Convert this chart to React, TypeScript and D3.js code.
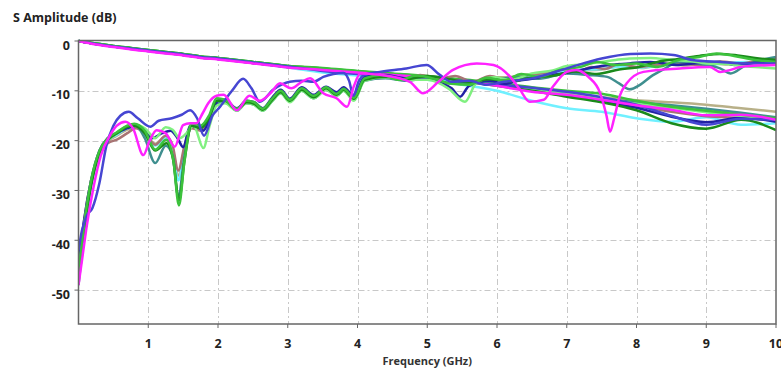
import * as d3 from 'd3';
import React, { useEffect, useRef } from 'react';

const WIDTH = 781;
const HEIGHT = 368;

const xTicks = [1, 2, 3, 4, 5, 6, 7, 8, 9, 10];
const yTicks = [0, -10, -20, -30, -40, -50];

// insertion loss traces, shared frequency grid (GHz)
const ilFreq = [0, 0.25, 0.5, 0.75, 1, 1.25, 1.5, 1.75, 2, 2.5, 3, 3.5, 4, 4.5, 5, 5.5, 6, 6.5, 7, 7.5, 8, 8.5, 9, 9.5, 10];
const ilOlive = [0, -0.6, -1.1, -1.5, -1.9, -2.3, -2.7, -3.2, -3.5, -4.3, -5.1, -5.6, -6.2, -6.7, -7.2, -7.8, -8.5, -9.5, -10.5, -11.3, -11.9, -12.3, -12.8, -13.5, -14.2];
const ilCyan = [0, -0.6, -1.1, -1.6, -2.0, -2.4, -2.8, -3.3, -3.6, -4.4, -5.3, -6.3, -6.9, -7.2, -7.8, -8.8, -10.0, -12.0, -13.5, -14.2, -15.5, -16.2, -15.3, -16.8, -16.5];
const ilMauve = [0, -0.6, -1.1, -1.5, -1.9, -2.3, -2.8, -3.3, -3.6, -4.4, -5.2, -5.7, -6.3, -6.8, -7.3, -8.0, -8.8, -10.0, -11.0, -12.0, -13.0, -14.2, -15.1, -15.4, -16.0];
const ilTeal = [0, -0.6, -1.1, -1.5, -1.9, -2.3, -2.7, -3.3, -3.5, -4.3, -5.2, -5.6, -6.2, -6.7, -7.2, -8.0, -8.7, -9.6, -10.8, -11.6, -12.3, -12.9, -13.6, -14.4, -15.3];
const ilNavy = [0, -0.6, -1.1, -1.5, -2.0, -2.4, -2.8, -3.3, -3.6, -4.4, -5.2, -5.7, -6.3, -6.8, -7.3, -8.0, -8.8, -9.8, -10.8, -12.2, -13.4, -15.2, -16.3, -15.4, -16.2];
const ilLightGreen = [0, -0.5, -1.0, -1.4, -1.8, -2.2, -2.6, -3.1, -3.4, -4.2, -5.0, -5.5, -6.1, -6.6, -7.1, -7.8, -8.6, -9.7, -10.6, -11.6, -12.6, -13.4, -14.3, -15.0, -15.8];
const ilDarkGreen = [0, -0.5, -1.0, -1.4, -1.8, -2.2, -2.6, -3.1, -3.4, -4.2, -5.0, -5.5, -6.1, -6.6, -7.2, -8.1, -9.0, -10.0, -11.2, -12.3, -13.9, -16.5, -17.6, -15.8, -17.9];
const ilGreen = [0, -0.5, -1.0, -1.4, -1.8, -2.2, -2.6, -3.1, -3.4, -4.2, -5.0, -5.4, -6.0, -6.5, -7.0, -7.7, -8.4, -9.3, -10.0, -10.6, -12.0, -13.2, -14.0, -14.8, -15.5];
const ilBlue = [0, -0.6, -1.1, -1.5, -1.9, -2.3, -2.7, -3.2, -3.5, -4.3, -5.1, -6.0, -6.6, -6.9, -7.3, -8.0, -8.7, -9.4, -10.2, -11.3, -12.8, -15.0, -16.8, -15.6, -15.8];
const ilMagenta = [0, -0.7, -1.2, -1.7, -2.1, -2.5, -2.9, -3.4, -3.7, -4.5, -5.3, -5.8, -6.3, -6.8, -7.3, -8.1, -9.0, -10.2, -10.8, -11.8, -12.9, -13.8, -14.9, -14.8, -15.8];

// return loss traces as [GHz, dB]
const rlOlive = [[0, -47], [0.08, -37], [0.18, -28.5], [0.3, -22.8], [0.42, -20.2], [0.55, -19], [0.7, -17.8], [0.82, -17.3], [0.95, -18.6], [1.1, -20.6], [1.25, -19.2], [1.35, -21.5], [1.43, -27], [1.52, -21.5], [1.62, -17.3], [1.75, -17.8], [1.87, -15.6], [1.98, -12.2], [2.1, -12.1], [2.27, -13.7], [2.41, -12.2], [2.52, -12.5], [2.64, -13.7], [2.78, -11.7], [2.9, -10.2], [3.03, -11.9], [3.2, -9.6], [3.37, -11.1], [3.55, -9.4], [3.7, -10.7], [3.8, -9.7], [3.95, -11.4], [4.1, -7.7], [4.4, -7.1], [4.7, -7.7], [5.0, -7.0], [5.3, -7.9], [5.6, -8.3], [5.9, -7.4], [6.2, -7.2], [6.5, -6.6], [6.8, -6.8], [7.1, -6.0], [7.5, -5.7], [7.8, -5.0], [8.1, -5.4], [8.4, -4.6], [8.7, -4.9], [9.0, -4.3], [9.3, -4.7], [9.6, -4.4], [10, -4.2]];
const rlCyan = [[0, -48], [0.08, -38], [0.18, -29], [0.3, -23], [0.42, -20], [0.55, -18.8], [0.7, -17.5], [0.82, -17.2], [0.95, -18.8], [1.1, -21], [1.25, -19.5], [1.35, -22], [1.43, -28], [1.52, -22], [1.62, -17.2], [1.75, -17.5], [1.87, -15.5], [1.98, -12.3], [2.1, -12.2], [2.27, -13.8], [2.41, -12.3], [2.52, -12.6], [2.64, -13.8], [2.78, -11.6], [2.9, -10.2], [3.03, -12], [3.2, -9.7], [3.37, -11.2], [3.55, -9.5], [3.7, -10.7], [3.8, -9.7], [3.95, -11.5], [4.1, -7.7], [4.4, -7.2], [4.7, -7.7], [5.0, -7.3], [5.3, -8.1], [5.6, -8.4], [5.9, -7.6], [6.2, -7.9], [6.5, -7.0], [6.8, -6.6], [7.1, -5.9], [7.5, -5.6], [7.8, -5.1], [8.1, -5.3], [8.4, -4.7], [8.7, -4.5], [9.0, -4.9], [9.3, -4.4], [9.6, -4.2], [10, -4.5]];
const rlMauve = [[0, -46], [0.08, -36], [0.18, -28], [0.3, -23], [0.42, -20.5], [0.55, -19.8], [0.7, -18.5], [0.82, -17.5], [0.95, -18.5], [1.1, -20.8], [1.25, -19], [1.35, -21], [1.43, -26], [1.52, -21], [1.62, -17.5], [1.75, -18], [1.87, -15.5], [1.98, -12], [2.1, -12], [2.27, -13.8], [2.41, -12.2], [2.52, -12.5], [2.64, -13.8], [2.78, -11.8], [2.9, -10.3], [3.03, -12], [3.2, -9.8], [3.37, -11.2], [3.55, -9.5], [3.7, -10.8], [3.8, -9.8], [3.95, -11.5], [4.1, -7.8], [4.4, -7.0], [4.65, -7.8], [4.9, -6.8], [5.15, -7.6], [5.4, -7.0], [5.65, -8.2], [5.9, -7.0], [6.15, -7.8], [6.47, -6.8], [6.75, -6.3], [6.95, -5.6], [7.15, -6.2], [7.35, -5.2], [7.55, -5.6], [7.75, -4.6], [8.0, -5.2], [8.3, -4.8], [8.6, -4.4], [8.9, -4.8], [9.2, -4.1], [9.5, -4.5], [9.75, -3.9], [10, -3.6]];
const rlTeal = [[0, -49], [0.08, -39], [0.18, -29], [0.3, -22.5], [0.42, -20], [0.55, -18.5], [0.7, -17.2], [0.82, -17], [0.95, -19.5], [1.1, -24.5], [1.25, -21], [1.35, -23], [1.43, -31.3], [1.52, -23], [1.62, -17], [1.75, -17.5], [1.87, -15.5], [1.98, -12.5], [2.1, -12.3], [2.27, -14], [2.41, -12.5], [2.52, -12.8], [2.64, -14], [2.78, -12], [2.9, -10.5], [3.03, -12.2], [3.2, -10], [3.37, -11.5], [3.55, -9.8], [3.7, -11], [3.8, -10], [3.95, -11.8], [4.1, -8], [4.4, -7.5], [4.7, -8], [5.0, -7.5], [5.3, -8.5], [5.6, -8.5], [6.0, -7.8], [6.3, -7.2], [6.6, -7.6], [7.0, -6.5], [7.3, -6.8], [7.58, -7.2], [7.75, -8.5], [7.9, -9.7], [8.05, -8.8], [8.2, -7.2], [8.4, -5.6], [8.6, -4.2], [9.0, -4.8], [9.2, -5.5], [9.35, -6.5], [9.55, -5], [9.8, -3.8], [10, -3.2]];
const rlNavy = [[0, -45], [0.08, -36], [0.18, -28], [0.3, -22], [0.42, -19.5], [0.55, -18.5], [0.7, -17.5], [0.82, -17], [0.95, -18], [1.05, -19.5], [1.2, -18.5], [1.32, -18], [1.42, -19.5], [1.5, -21.3], [1.6, -17], [1.7, -17.2], [1.79, -18], [1.9, -15], [2.0, -12], [2.1, -11.8], [2.27, -13.5], [2.41, -12], [2.52, -12.3], [2.64, -13.5], [2.78, -11.3], [2.9, -9.8], [3.03, -11.6], [3.2, -9.3], [3.37, -10.8], [3.55, -9.2], [3.7, -10.3], [3.8, -9.3], [3.95, -11], [4.1, -7.2], [4.4, -6.8], [4.7, -7.5], [5.0, -7.5], [5.2, -8.5], [5.35, -9.5], [5.47, -11.2], [5.6, -9], [5.9, -8], [6.1, -8.6], [6.3, -8], [6.5, -7.6], [6.7, -7], [6.95, -6.5], [7.2, -5.8], [7.5, -5.0], [7.9, -4.5], [8.2, -4.2], [8.6, -4.8], [8.9, -4.4], [9.2, -4.2], [9.4, -4.8], [9.6, -4.5], [10, -3.9]];
const rlLightGreen = [[0, -47], [0.08, -37], [0.18, -28.5], [0.3, -22.5], [0.42, -20], [0.55, -18.5], [0.7, -17], [0.8, -16.8], [0.95, -17.5], [1.1, -19.5], [1.25, -17.3], [1.35, -17.8], [1.45, -19.5], [1.55, -18.5], [1.65, -17], [1.79, -21.5], [1.88, -17], [1.98, -13], [2.1, -12.5], [2.27, -14], [2.41, -12.5], [2.52, -12.8], [2.64, -14], [2.78, -12], [2.9, -10.5], [3.03, -12.3], [3.2, -10], [3.37, -11.5], [3.55, -9.8], [3.7, -11], [3.8, -10], [3.95, -12], [4.1, -8], [4.4, -7.3], [4.7, -7.8], [5.0, -7.8], [5.3, -9.5], [5.54, -12.2], [5.7, -8.5], [5.95, -7.3], [6.2, -7.8], [6.5, -6.5], [6.8, -5.9], [7.0, -5.0], [7.3, -4.6], [7.5, -4.2], [7.7, -3.8], [7.9, -3.5], [8.2, -3.4], [8.5, -3.8], [8.8, -4.1], [9.0, -4.5], [9.3, -4.6], [9.5, -5], [9.8, -5.3], [10, -5.5]];
const rlDarkGreen = [[0, -48], [0.08, -38], [0.18, -29], [0.3, -22.5], [0.42, -19.8], [0.55, -18.5], [0.7, -17.2], [0.8, -17], [0.95, -18.5], [1.1, -22], [1.26, -20.5], [1.36, -24], [1.44, -32], [1.52, -24], [1.62, -17], [1.75, -17.5], [1.87, -15.5], [1.98, -12], [2.1, -12], [2.27, -13.8], [2.41, -12.3], [2.52, -12.6], [2.64, -13.8], [2.78, -11.8], [2.9, -10.3], [3.03, -12], [3.2, -9.8], [3.37, -11.3], [3.55, -9.5], [3.7, -10.8], [3.8, -9.8], [3.95, -11.6], [4.1, -7.8], [4.4, -7.2], [4.7, -7.7], [5.0, -7.0], [5.3, -7.6], [5.6, -8.3], [5.9, -7.7], [6.2, -8.1], [6.5, -7.3], [6.8, -7.0], [7.1, -6.1], [7.43, -6.6], [7.75, -5.7], [8.0, -5.3], [8.3, -4.2], [8.6, -3.6], [8.9, -3.0], [9.2, -2.6], [9.45, -2.9], [9.7, -3.4], [10, -3.8]];
const rlGreen = [[0, -47], [0.08, -37], [0.18, -28], [0.3, -22], [0.42, -19.5], [0.55, -18.3], [0.7, -17], [0.8, -16.6], [0.95, -18], [1.1, -21.8], [1.26, -19.8], [1.36, -24], [1.44, -33], [1.52, -24], [1.62, -16.5], [1.75, -17], [1.87, -15], [1.98, -11.5], [2.1, -11.8], [2.27, -13.6], [2.41, -12], [2.52, -12.3], [2.64, -13.6], [2.78, -11.5], [2.9, -10], [3.03, -11.8], [3.2, -9.5], [3.37, -11], [3.55, -9.3], [3.7, -10.6], [3.8, -9.6], [3.95, -11.4], [4.1, -7.5], [4.35, -6.8], [4.6, -7.8], [4.85, -6.9], [5.1, -7.6], [5.35, -8.6], [5.6, -8.8], [5.85, -7.4], [6.1, -7.9], [6.35, -6.6], [6.6, -7.2], [6.9, -5.8], [7.2, -5.2], [7.43, -4.2], [7.7, -4.8], [8.0, -4.5], [8.3, -5.2], [8.6, -3.8], [8.9, -3.2], [9.15, -2.5], [9.4, -3], [9.7, -3.8], [10, -4.2]];
const rlBlue = [[0, -42], [0.05, -38], [0.12, -35], [0.2, -33.5], [0.3, -28.5], [0.4, -21], [0.5, -17], [0.6, -15], [0.72, -14.2], [0.85, -15.5], [1.03, -17.2], [1.15, -16], [1.34, -15.5], [1.48, -14.8], [1.6, -13.9], [1.7, -15.5], [1.8, -19], [1.92, -15], [2.03, -13.2], [2.2, -10], [2.36, -7.6], [2.48, -9.5], [2.6, -12.2], [2.79, -9.8], [3.03, -8.2], [3.2, -8], [3.37, -8.2], [3.51, -7.2], [3.8, -6.4], [3.88, -8], [3.94, -11], [4.02, -8], [4.1, -6.8], [4.32, -6.2], [4.7, -5.5], [4.99, -4.8], [5.18, -6.8], [5.35, -8.2], [5.6, -8], [5.85, -8.8], [6.1, -8.2], [6.5, -7.5], [7.0, -5.5], [7.5, -3.5], [7.91, -2.6], [8.2, -2.5], [8.53, -2.8], [8.8, -3.8], [9.2, -4.2], [9.6, -4.5], [10, -4.5]];
const rlMagenta = [[0, -49], [0.05, -44], [0.12, -37], [0.22, -29], [0.32, -23], [0.45, -19], [0.55, -17], [0.67, -16.2], [0.78, -17.5], [0.93, -22.9], [1.02, -20], [1.12, -17.9], [1.25, -18.5], [1.38, -21.2], [1.5, -16.9], [1.6, -16.5], [1.69, -16.5], [1.78, -14.5], [1.86, -12.5], [1.98, -11], [2.08, -10.8], [2.27, -13.9], [2.45, -11], [2.6, -12], [2.75, -10.5], [2.89, -8.5], [3.05, -9.5], [3.2, -8.2], [3.32, -7.5], [3.51, -10.5], [3.7, -11.5], [3.85, -13.2], [3.95, -9], [4.04, -6.5], [4.32, -6.8], [4.75, -8.2], [4.94, -10.5], [5.16, -8.2], [5.37, -5.8], [5.71, -4.5], [5.95, -4.8], [6.19, -7.2], [6.33, -9.8], [6.47, -12.2], [6.67, -11.8], [6.8, -9.2], [7.0, -6.2], [7.14, -5.8], [7.31, -7.2], [7.48, -10.5], [7.57, -15], [7.62, -18.2], [7.68, -15.5], [7.76, -11], [7.86, -8.5], [8.1, -6.2], [8.62, -5.5], [9.05, -5.2], [9.2, -6.2], [9.35, -5.8], [9.49, -5.2], [10, -4.8]];

const traces = [
    { color: '#b8b088', il: ilOlive, rl: rlOlive },
    { color: '#70f0ff', il: ilCyan, rl: rlCyan },
    { color: '#a87474', il: ilMauve, rl: rlMauve },
    { color: '#3f8f8f', il: ilTeal, rl: rlTeal },
    { color: '#2222a4', il: ilNavy, rl: rlNavy },
    { color: '#80f080', il: ilLightGreen, rl: rlLightGreen },
    { color: '#1a8a1a', il: ilDarkGreen, rl: rlDarkGreen },
    { color: '#3cc23c', il: ilGreen, rl: rlGreen },
    { color: '#4646d2', il: ilBlue, rl: rlBlue },
    { color: '#ff22ff', il: ilMagenta, rl: rlMagenta }
];

const FONT = '"Open Sans", "DejaVu Sans", sans-serif';

const App = () => {
    const svgRef = useRef<SVGSVGElement>(null);

    useEffect(() => {
        const svg = d3.select(svgRef.current);
        svg.selectAll('*').remove();

        const left = 78.5, right = 776, top = 41, bottom = 324;
        const x = d3.scaleLinear().domain([0, 10]).range([left, right]);
        const y = d3.scaleLinear().domain([-56.8, 0]).range([bottom, top]);

        svg.append('defs').append('clipPath').attr('id', 'plot-clip')
            .append('rect')
            .attr('x', left).attr('y', top - 2)
            .attr('width', right - left).attr('height', bottom - top + 2);

        // grid
        const grid = svg.append('g')
            .attr('stroke', '#c8c8c8')
            .attr('stroke-width', 1)
            .attr('stroke-dasharray', '6,3,2,3');
        grid.selectAll('line.v').data(xTicks.slice(0, -1)).join('line')
            .attr('x1', d => Math.round(x(d)) + 0.5).attr('x2', d => Math.round(x(d)) + 0.5)
            .attr('y1', top).attr('y2', bottom);
        grid.selectAll('line.h').data(yTicks.slice(1)).join('line')
            .attr('x1', left).attr('x2', right)
            .attr('y1', d => Math.round(y(d)) + 0.5).attr('y2', d => Math.round(y(d)) + 0.5);

        // traces
        const line = d3.line<number[]>()
            .x(d => x(d[0]))
            .y(d => y(d[1]))
            .curve(d3.curveMonotoneX);
        const plot = svg.append('g').attr('clip-path', 'url(#plot-clip)');
        traces.forEach(t => {
            plot.append('path')
                .datum(ilFreq.map((f, i) => [f, t.il[i]]))
                .attr('fill', 'none')
                .attr('stroke', t.color)
                .attr('stroke-width', 2.5)
                .attr('stroke-linejoin', 'round')
                .attr('d', line);
        });
        traces.forEach(t => {
            plot.append('path')
                .datum(t.rl)
                .attr('fill', 'none')
                .attr('stroke', t.color)
                .attr('stroke-width', 2.5)
                .attr('stroke-linejoin', 'round')
                .attr('d', line);
        });

        // frame
        svg.append('rect')
            .attr('x', left).attr('y', top - 0.5)
            .attr('width', right - left).attr('height', bottom - top + 0.5)
            .attr('fill', 'none')
            .attr('stroke', '#666')
            .attr('stroke-width', 1.5);

        // x axis ticks + labels
        const xAxis = svg.append('g');
        xAxis.selectAll('line').data(xTicks).join('line')
            .attr('x1', d => x(d)).attr('x2', d => x(d))
            .attr('y1', bottom).attr('y2', bottom + 4)
            .attr('stroke', '#666').attr('stroke-width', 1);
        xAxis.selectAll('text').data(xTicks).join('text')
            .attr('x', d => x(d)).attr('y', 347.5)
            .attr('text-anchor', 'middle')
            .attr('font-family', FONT).attr('font-size', 12.5).attr('font-weight', 700)
            .attr('fill', '#222')
            .text(d => d);

        // y axis ticks + labels
        const yAxis = svg.append('g');
        yAxis.selectAll('line').data(yTicks).join('line')
            .attr('x1', left - 4).attr('x2', left)
            .attr('y1', d => y(d)).attr('y2', d => y(d))
            .attr('stroke', '#666').attr('stroke-width', 1);
        yAxis.selectAll('text').data(yTicks).join('text')
            .attr('x', 70).attr('y', d => y(d) + 8.5)
            .attr('text-anchor', 'end')
            .attr('font-family', FONT).attr('font-size', 12.5).attr('font-weight', 700)
            .attr('fill', '#222')
            .text(d => d);

        svg.append('text')
            .attr('x', 13).attr('y', 22)
            .attr('font-family', FONT).attr('font-size', 12.5).attr('font-weight', 700)
            .attr('fill', '#222')
            .text('S Amplitude (dB)');

        svg.append('text')
            .attr('x', (left + right) / 2).attr('y', 365)
            .attr('text-anchor', 'middle')
            .attr('font-family', FONT).attr('font-size', 11).attr('font-weight', 700)
            .attr('fill', '#333')
            .text('Frequency (GHz)');
    }, []);

    return (
        <svg
            ref={svgRef}
            width={WIDTH}
            height={HEIGHT}
            style={{ position: 'absolute', left: 0, top: 0, background: '#fff' }}
        />
    );
};

export default App;
